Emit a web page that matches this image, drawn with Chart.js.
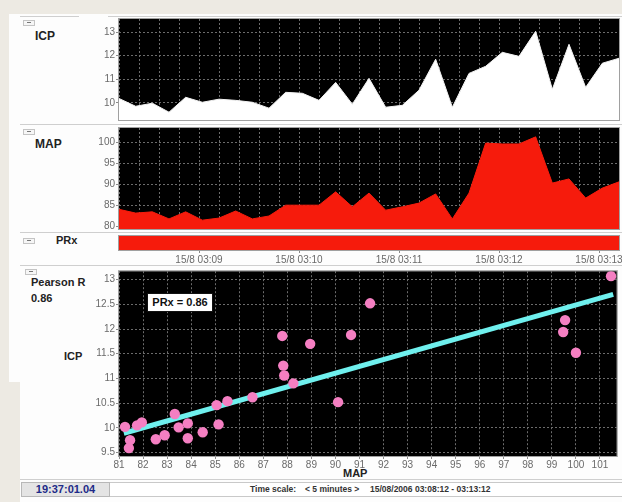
<!DOCTYPE html>
<html lang="en">
<head>
<meta charset="UTF-8">
<title>ICP / MAP - PRx</title>
<script src="https://cdn.jsdelivr.net/npm/chart.js"></script>
<style>
    body {
        margin: 0;
        width: 622px;
        height: 502px;
        overflow: hidden;
        position: relative;
        background: #edeae3;
        font-family: "Liberation Sans", Arial, sans-serif;
    }
    .sheet { position: absolute; background: #fdfdfd; }
    .sep { position: absolute; height: 1px; background: #cfcfcf; }
    .lbl { position: absolute; font-weight: bold; color: #222; line-height: 1; white-space: nowrap; }
    canvas { position: absolute; }
    .btn { position: absolute; width: 10px; height: 4px; border: 1px solid #c4c4c4; background: #f6f6f6; }
    .btn::after { content: ""; position: absolute; left: 3px; top: 1px; width: 4px; height: 1px; background: #777; }
    .prx-box {
        position: absolute; left: 147px; top: 293px; width: 64px; height: 17px;
        background: #fff; border: 1px solid #111; font-weight: bold; font-size: 11px;
        line-height: 17px; text-align: center; color: #111;
    }
    .stat-time {
        position: absolute; left: 21px; top: 482px; width: 87px; height: 13px;
        background: #e4e4e4; border: 1px solid #b8b8b8; color: #1d2a88;
        font-weight: bold; font-size: 11px; line-height: 13px; text-align: center;
    }
    .stat-bar {
        position: absolute; left: 109px; top: 482px; width: 513px; height: 13px;
        background: #fff; border-top: 1px solid #c9c9c9; border-bottom: 1px solid #c9c9c9;
    }
    .stat-txt { position: absolute; top: 485px; font-size: 8.5px; font-weight: bold; color: #333; line-height: 1; white-space: nowrap; }
</style>
</head>
<body>

<div class="sheet" style="left:9px;top:14px;width:613px;height:368px"></div>
<div class="sheet" style="left:20px;top:380px;width:602px;height:122px"></div>

<div class="sep" style="left:20px;top:16px;width:59px"></div>
<div class="sep" style="left:108px;top:16px;width:514px"></div>
<div class="sep" style="left:20px;top:124px;width:602px"></div>
<div class="sep" style="left:20px;top:232px;width:602px"></div>
<div class="sep" style="left:20px;top:265px;width:602px"></div>
<div class="sep" style="left:20px;top:479px;width:602px"></div>

<div class="btn" style="left:23px;top:20px"></div>
<div class="btn" style="left:23px;top:129px"></div>
<div class="btn" style="left:23px;top:238px"></div>
<div class="btn" style="left:25px;top:269px"></div>

<div class="lbl" style="left:35px;top:30px;font-size:12px">ICP</div>
<div class="lbl" style="left:35px;top:138px;font-size:12px">MAP</div>
<div class="lbl" style="left:56px;top:235px;font-size:11px">PRx</div>
<div class="lbl" style="left:31px;top:277px;font-size:11px">Pearson R</div>
<div class="lbl" style="left:31px;top:293px;font-size:11px">0.86</div>
<div class="lbl" style="left:64px;top:351px;font-size:11px">ICP</div>
<div class="lbl" style="left:343px;top:468px;font-size:11px">MAP</div>

<canvas id="icpChart" width="542" height="108" style="left:80px;top:16px"></canvas>
<canvas id="mapChart" width="542" height="108" style="left:80px;top:124px"></canvas>
<canvas id="prxChart" width="542" height="34" style="left:80px;top:232px"></canvas>
<canvas id="scatterChart" width="542" height="210" style="left:80px;top:266px"></canvas>

<div class="prx-box">PRx = 0.86</div>

<div class="stat-bar"></div>
<div class="stat-time">19:37:01.04</div>
<div class="stat-txt" style="left:250px">Time scale:</div>
<div class="stat-txt" style="left:305px">&lt; 5 minutes &gt;</div>
<div class="stat-txt" style="left:370px">15/08/2006 03:08:12 - 03:13:12</div>

<script>
    // seconds since 03:08:12, one sample every 10 s
    const sampleSec = [0, 10, 20, 30, 40, 50, 60, 70, 80, 90, 100, 110, 120, 130, 140, 150,
                       160, 170, 180, 190, 200, 210, 220, 230, 240, 250, 260, 270, 280, 290, 300];
    const icpValues = [10.19, 9.86, 9.99, 9.61, 10.24, 10.03, 10.16, 10.11, 10.03, 9.78, 10.45,
                       10.41, 10.11, 10.87, 9.95, 11.04, 9.82, 9.90, 10.54, 11.85, 9.82, 11.25,
                       11.55, 12.14, 11.97, 13.03, 10.58, 12.48, 10.66, 11.68, 11.89];
    const mapValues = [84.0, 83.1, 83.4, 81.7, 83.4, 81.4, 81.9, 83.6, 81.7, 82.4, 85.0,
                       85.0, 85.0, 88.2, 84.6, 87.9, 83.8, 84.6, 85.5, 87.7, 81.7, 87.9,
                       99.9, 99.7, 99.7, 101.4, 90.3, 91.3, 86.7, 89.1, 90.6];

    const timeTickSec = [48, 108, 168, 228, 288];
    const timeTickLabels = ["15/8 03:09", "15/8 03:10", "15/8 03:11", "15/8 03:12", "15/8 03:13"];
    const icpTicks = [10, 11, 12, 13];
    const mapTicks = [80, 85, 90, 95, 100];

    const prxValue = 0.86;
    const prxSpan = [0, 300];

    // scatter MAP vs ICP
    const scatterMap = [81.25, 81.46, 81.41, 81.75, 81.95, 82.53, 82.90, 83.32, 83.48, 83.86,
                        83.86, 84.48, 85.06, 85.14, 85.51, 86.55, 87.79, 87.83, 87.87, 88.25,
                        88.95, 90.11, 90.65, 91.44, 99.47, 99.55, 100.0, 101.46];
    const scatterIcp = [10.02, 9.75, 9.59, 10.05, 10.11, 9.77, 9.85, 10.28, 10.01, 10.09,
                        9.79, 9.91, 10.46, 10.07, 10.54, 10.62, 11.86, 11.26, 11.06, 10.90,
                        11.70, 10.52, 11.88, 12.52, 11.94, 12.18, 11.52, 13.07];
    const fitMap = [81.2, 101.55];
    const fitIcp = [9.89, 12.70];
    const scatterXTicks = [81, 82, 83, 84, 85, 86, 87, 88, 89, 90, 91, 92, 93, 94, 95, 96, 97, 98, 99, 100, 101];
    const scatterYTicks = [9.5, 10, 10.5, 11, 11.5, 12, 12.5, 13];

    Chart.defaults.font.family = "'Liberation Sans', Arial, sans-serif";
    Chart.defaults.font.size = 10;
    Chart.defaults.color = "#6a6a6a";
    Chart.defaults.animation = false;

    // black plot background and thin grey frame
    const panelFrame = {
        id: "panelFrame",
        beforeDraw(chart) {
            const a = chart.chartArea;
            chart.ctx.save();
            chart.ctx.fillStyle = "#000";
            chart.ctx.fillRect(a.left, a.top, a.width, a.height);
            chart.ctx.restore();
        },
        afterDraw(chart) {
            const a = chart.chartArea;
            const ctx = chart.ctx;
            ctx.save();
            ctx.strokeStyle = "#a0a0a0";
            ctx.lineWidth = 1;
            ctx.strokeRect(a.left - 0.5, a.top - 0.5, a.width + 1, a.height + 1);
            ctx.restore();
        }
    };

    function fixedTicks(values) {
        return scale => { scale.ticks = values.map(v => ({ value: v })); };
    }
    function fitWidth(w) {
        return scale => {
            scale.width = w;
            scale.paddingTop = scale.paddingBottom = scale.paddingLeft = scale.paddingRight = 0;
        };
    }
    function fitHeight(h) {
        return scale => {
            scale.height = h;
            scale.paddingTop = scale.paddingBottom = scale.paddingLeft = scale.paddingRight = 0;
        };
    }

    const dotGrid = { color: "#6c6c6c", tickColor: "#8a8a8a", tickLength: 3 };
    const dotBorder = { display: false, dash: [2, 2] };
    const plainNum = v => String(v);

    function timeSeries(id, values, tickVals, yMin, yMax, fillColor, lineColor, pad) {
        return new Chart(document.getElementById(id), {
            type: "line",
            data: {
                datasets: [{
                    data: sampleSec.map((s, i) => ({ x: s, y: values[i] })),
                    borderColor: lineColor,
                    borderWidth: 1,
                    backgroundColor: fillColor,
                    fill: "start",
                    pointRadius: 0,
                    tension: 0
                }]
            },
            options: {
                responsive: false,
                layout: { padding: pad },
                plugins: { legend: { display: false }, tooltip: { enabled: false } },
                scales: {
                    x: {
                        type: "linear", min: 0, max: 300,
                        ticks: { display: false, stepSize: 12 },
                        grid: { color: "#6c6c6c", drawTicks: false },
                        border: dotBorder,
                        afterFit: fitHeight(0)
                    },
                    y: {
                        min: yMin, max: yMax,
                        afterBuildTicks: fixedTicks(tickVals),
                        ticks: { padding: 1, callback: plainNum },
                        grid: dotGrid,
                        border: dotBorder,
                        afterFit: fitWidth(39)
                    }
                }
            },
            plugins: [panelFrame]
        });
    }

    timeSeries("icpChart", icpValues, icpTicks, 9.28, 13.55, "#ffffff", "#f2f2f2",
        { left: 0, top: 3, right: 3, bottom: 4 });
    timeSeries("mapChart", mapValues, mapTicks, 79.28, 103.53, "#f61b0c", "#f61b0c",
        { left: 0, top: 4, right: 3, bottom: 3 });

    // PRx colour bar with the time axis under it
    new Chart(document.getElementById("prxChart"), {
        type: "bar",
        data: {
            labels: ["PRx"],
            datasets: [{
                data: [prxSpan],
                backgroundColor: prxValue > 0.3 ? "#f61b0c" : "#2bb34a",
                borderWidth: 0,
                barPercentage: 1,
                categoryPercentage: 1
            }]
        },
        options: {
            indexAxis: "y",
            responsive: false,
            layout: { padding: { left: 39, top: 4, right: 3, bottom: 0 } },
            plugins: { legend: { display: false }, tooltip: { enabled: false } },
            scales: {
                x: {
                    type: "linear", min: 0, max: 300,
                    afterBuildTicks: fixedTicks(timeTickSec),
                    ticks: {
                        padding: 1,
                        maxRotation: 0,
                        autoSkip: false,
                        callback: v => timeTickLabels[timeTickSec.indexOf(v)]
                    },
                    grid: { drawOnChartArea: false, tickColor: "#8a8a8a", tickLength: 3 },
                    border: { display: false },
                    afterFit: fitHeight(16)
                },
                y: { display: false }
            }
        },
        plugins: [panelFrame]
    });

    new Chart(document.getElementById("scatterChart"), {
        type: "scatter",
        data: {
            datasets: [
                {
                    data: scatterMap.map((m, i) => ({ x: m, y: scatterIcp[i] })),
                    backgroundColor: "#f57fc2",
                    borderWidth: 0,
                    pointRadius: 5.2,
                    order: 0
                },
                {
                    type: "line",
                    data: fitMap.map((m, i) => ({ x: m, y: fitIcp[i] })),
                    borderColor: "#6ff0ee",
                    borderWidth: 5,
                    pointRadius: 0,
                    fill: false,
                    order: 1
                }
            ]
        },
        options: {
            responsive: false,
            layout: { padding: { left: 0, top: 4, right: 3, bottom: 0 } },
            plugins: { legend: { display: false }, tooltip: { enabled: false } },
            scales: {
                x: {
                    type: "linear", min: 81, max: 101.7,
                    afterBuildTicks: fixedTicks(scatterXTicks),
                    ticks: { padding: 0, maxRotation: 0, autoSkip: false, callback: plainNum },
                    grid: dotGrid,
                    border: dotBorder,
                    afterFit: fitHeight(20)
                },
                y: {
                    min: 9.43, max: 13.17,
                    afterBuildTicks: fixedTicks(scatterYTicks),
                    ticks: { padding: 1, callback: plainNum },
                    grid: dotGrid,
                    border: dotBorder,
                    afterFit: fitWidth(39)
                }
            }
        },
        plugins: [panelFrame]
    });
</script>

</body>
</html>
